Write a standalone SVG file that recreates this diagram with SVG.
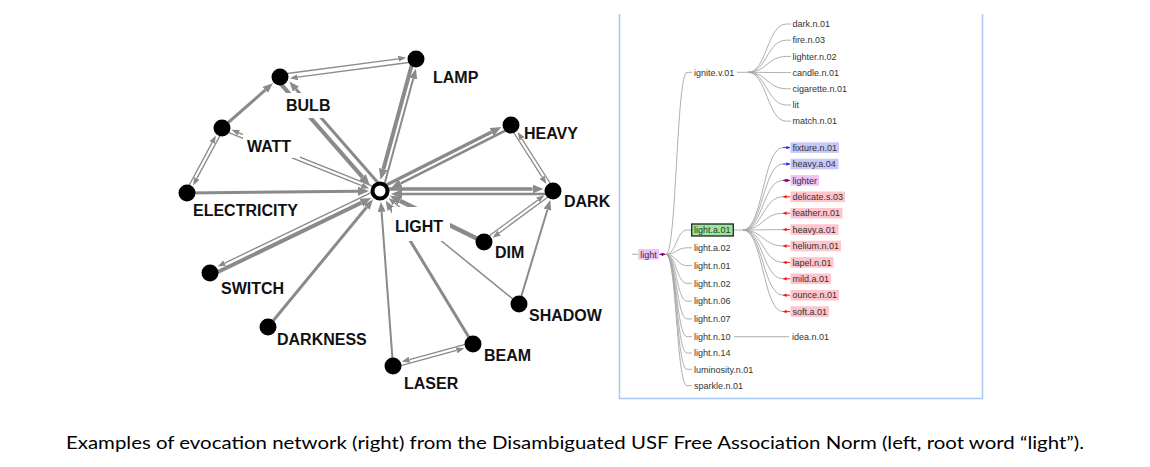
<svg xmlns="http://www.w3.org/2000/svg" width="1150" height="467" viewBox="0 0 1150 467">
<style>
.e{fill:none;stroke:#8a8a8a;stroke-linecap:butt}
.t1{stroke-width:1.3}
.nd{fill:#000}
.lb{font-family:"Liberation Sans",Arial,sans-serif;font-weight:bold;font-size:16px;fill:#111}
.bg{fill:#fff}
.tl{fill:none;stroke:#a6a6a6;stroke-width:0.9}
.tt{font-family:"Liberation Sans",Arial,sans-serif;font-size:9px;fill:#333}
.bb{fill:#c8c8f8}
.bp{fill:#ffc4cc}
.bv{fill:#f0c2f6}
.ab{stroke:#2626ff;stroke-width:1;fill:none}
.ar{stroke:#ff1010;stroke-width:1;fill:none}
.ap{stroke:#800080;stroke-width:1;fill:none}
.cap{font-family:Lato,"Open Sans",sans-serif;font-size:17px;fill:#000}
</style>
<defs>
<marker id="a8" markerUnits="userSpaceOnUse" markerWidth="8" markerHeight="6" viewBox="0 0 8 6" refX="0" refY="3" orient="auto"><path d="M0,0 L8,3 L0,6 z" fill="#8a8a8a"/></marker>
<marker id="a10" markerUnits="userSpaceOnUse" markerWidth="10" markerHeight="8" viewBox="0 0 10 8" refX="0" refY="4" orient="auto"><path d="M0,0 L10,4 L0,8 z" fill="#8a8a8a"/></marker>
<marker id="a11" markerUnits="userSpaceOnUse" markerWidth="11" markerHeight="9" viewBox="0 0 11 9" refX="0" refY="4.5" orient="auto"><path d="M0,0 L11,4.5 L0,9 z" fill="#8a8a8a"/></marker>
<marker id="mb" markerUnits="userSpaceOnUse" markerWidth="3.6" markerHeight="3.6" viewBox="0 0 3.6 3.6" refX="3.6" refY="1.8" orient="auto-start-reverse"><path d="M0,0 L3.6,1.8 L0,3.6 z" fill="#2626ff"/></marker>
<marker id="mr" markerUnits="userSpaceOnUse" markerWidth="3.6" markerHeight="3.6" viewBox="0 0 3.6 3.6" refX="3.6" refY="1.8" orient="auto-start-reverse"><path d="M0,0 L3.6,1.8 L0,3.6 z" fill="#ff1010"/></marker>
<marker id="mp" markerUnits="userSpaceOnUse" markerWidth="3.6" markerHeight="3.6" viewBox="0 0 3.6 3.6" refX="3.6" refY="1.8" orient="auto-start-reverse"><path d="M0,0 L3.6,1.8 L0,3.6 z" fill="#800080"/></marker>
</defs>
<rect width="1150" height="467" fill="#fff"/>

<!-- left: USF free association network -->
<g id="edges">
<path class="e t1" d="M279.7,74.5 L398.3,58.8" marker-end="url(#a8)"/>
<path class="e t1" d="M416.3,61.5 L297.7,77.2" marker-end="url(#a8)"/>
<path class="e" stroke-width="4" d="M277,79.6 L362.5,177.1" marker-end="url(#a11)"/>
<path class="e" stroke-width="3" d="M383,188.4 L295.9,89.1" marker-end="url(#a10)"/>
<path class="e" stroke-width="3" d="M222,128 L265.4,89.9" marker-end="url(#a10)"/>
<path class="e t1" d="M185.4,192.2 L212.1,142.6" marker-end="url(#a8)"/>
<path class="e t1" d="M223.6,128.9 L196.9,178.4" marker-end="url(#a8)"/>
<path class="e" stroke-width="3" d="M187,193 L358,191.2" marker-end="url(#a11)"/>
<path class="e t1" d="M221.3,129.7 L361.7,185.6" marker-end="url(#a8)"/>
<path class="e t1" d="M380.7,189.3 L238.9,132.8" marker-end="url(#a8)"/>
<path class="e" stroke-width="4" d="M413.6,58.3 L383.4,169.1" marker-end="url(#a11)"/>
<path class="e" stroke-width="2" d="M382.4,191.7 L413.3,78.5" marker-end="url(#a10)"/>
<path class="e" stroke-width="3.5" d="M378.9,188.8 L491.6,132" marker-end="url(#a11)"/>
<path class="e" stroke-width="2.5" d="M512.1,127.2 L400.8,183.3" marker-end="url(#a11)"/>
<path class="e t1" d="M509.5,126 L542.1,177.2" marker-end="url(#a8)"/>
<path class="e t1" d="M554.5,190 L521.9,138.8" marker-end="url(#a8)"/>
<path class="e" stroke-width="3.5" d="M380,189 L532.5,189" marker-end="url(#a11)"/>
<path class="e" stroke-width="2.5" d="M553,194 L402,194" marker-end="url(#a11)"/>
<path class="e t1" d="M482.9,240.6 L537.9,199.9" marker-end="url(#a8)"/>
<path class="e t1" d="M554.1,192.4 L499.1,233" marker-end="url(#a8)"/>
<path class="e" stroke-width="2" d="M519,304 L547.4,209.7" marker-end="url(#a10)"/>
<path class="e" stroke-width="4.5" d="M484,242 L399.8,200.7" marker-end="url(#a11)"/>
<path class="e" stroke-width="1.5" d="M519,304 L394.7,203" marker-end="url(#a8)"/>
<path class="e" stroke-width="3" d="M473,344 L390.9,209" marker-end="url(#a10)"/>
<path class="e" stroke-width="2" d="M393,366 L381.6,211.9" marker-end="url(#a10)"/>
<path class="e t1" d="M393.5,367.7 L456.6,350.4" marker-end="url(#a8)"/>
<path class="e t1" d="M472.5,342.3 L409.4,359.6" marker-end="url(#a8)"/>
<path class="e" stroke-width="4" d="M211.1,275.3 L361.3,202.8" marker-end="url(#a11)"/>
<path class="e t1" d="M378.9,188.8 L224.7,263.1" marker-end="url(#a8)"/>
<path class="e" stroke-width="3" d="M268,327 L366.6,207.2" marker-end="url(#a10)"/>
</g>

<g id="n-light"><rect class="bg" x="392" y="207" width="58" height="34"/><circle cx="380" cy="191" r="7.5" fill="#fff" stroke="#000" stroke-width="4"/><text class="lb" x="395" y="232">LIGHT</text></g>
<g id="n-bulb"><rect class="bg" x="283" y="93" width="50" height="25"/><circle class="nd" cx="280" cy="77" r="8.5"/><text class="lb" x="286" y="111">BULB</text></g>
<g id="n-watt"><rect class="bg" x="243" y="134" width="57" height="24"/><circle class="nd" cx="222" cy="128" r="8.5"/><text class="lb" x="247" y="152">WATT</text></g>
<g id="n-electricity"><circle class="nd" cx="187" cy="193" r="8.5"/><text class="lb" x="193" y="216">ELECTRICITY</text></g>
<g id="n-lamp"><circle class="nd" cx="416" cy="59" r="8.5"/><text class="lb" x="433" y="83">LAMP</text></g>
<g id="n-heavy"><circle class="nd" cx="511" cy="125" r="8.5"/><text class="lb" x="524" y="139">HEAVY</text></g>
<g id="n-dark"><circle class="nd" cx="553" cy="191" r="8.5"/><text class="lb" x="564" y="207">DARK</text></g>
<g id="n-dim"><circle class="nd" cx="484" cy="242" r="8.5"/><text class="lb" x="495" y="258">DIM</text></g>
<g id="n-shadow"><circle class="nd" cx="519" cy="304" r="8.5"/><text class="lb" x="529" y="321">SHADOW</text></g>
<g id="n-beam"><circle class="nd" cx="473" cy="344" r="8.5"/><text class="lb" x="484" y="361">BEAM</text></g>
<g id="n-laser"><circle class="nd" cx="393" cy="366" r="8.5"/><text class="lb" x="404" y="389">LASER</text></g>
<g id="n-switch"><circle class="nd" cx="210" cy="273" r="8.5"/><text class="lb" x="221" y="294">SWITCH</text></g>
<g id="n-darkness"><circle class="nd" cx="268" cy="327" r="8.5"/><text class="lb" x="277" y="345">DARKNESS</text></g>

<!-- right: evocation tree panel -->
<path id="panel" d="M619.5,14 V398.5 H982.5 V14" fill="none" stroke="#a9c9f2" stroke-width="1.5"/>

<g id="tree-links">
<path class="tl" d="M632,254.3 H638.3"/>
<path class="tl" d="M666,254.3 C676.5,254.3 676.5,72.3 687,72.3 H692"/>
<path class="tl" d="M666,254.3 C676.5,254.3 676.5,230 687,230 H691.7"/>
<path class="tl" d="M666,254.3 C676.5,254.3 676.5,247.8 687,247.8 H692"/>
<path class="tl" d="M666,254.3 C676.5,254.3 676.5,265.6 687,265.6 H692"/>
<path class="tl" d="M666,254.3 C676.5,254.3 676.5,283.3 687,283.3 H692"/>
<path class="tl" d="M666,254.3 C676.5,254.3 676.5,301.1 687,301.1 H692"/>
<path class="tl" d="M666,254.3 C676.5,254.3 676.5,318.9 687,318.9 H692"/>
<path class="tl" d="M666,254.3 C676.5,254.3 676.5,336.7 687,336.7 H692"/>
<path class="tl" d="M666,254.3 C676.5,254.3 676.5,353 687,353 H692"/>
<path class="tl" d="M666,254.3 C676.5,254.3 676.5,369.3 687,369.3 H692"/>
<path class="tl" d="M666,254.3 C676.5,254.3 676.5,385.6 687,385.6 H692"/>
<path class="tl" d="M737,72.3 H748"/>
<path class="tl" d="M748,72.3 C767,72.3 767,24 786.5,24 H791"/>
<path class="tl" d="M748,72.3 C767,72.3 767,40.2 786.5,40.2 H791"/>
<path class="tl" d="M748,72.3 C767,72.3 767,56.4 786.5,56.4 H791"/>
<path class="tl" d="M748,72.3 C767,72.3 767,72.6 786.5,72.6 H791"/>
<path class="tl" d="M748,72.3 C767,72.3 767,88.8 786.5,88.8 H791"/>
<path class="tl" d="M748,72.3 C767,72.3 767,105 786.5,105 H791"/>
<path class="tl" d="M748,72.3 C767,72.3 767,121.2 786.5,121.2 H791"/>
<path class="tl" d="M733.3,230 H743"/>
<path class="tl" d="M743,230 C763,230 763,147.6 783,147.6"/>
<path class="tl" d="M743,230 C763,230 763,164 783,164"/>
<path class="tl" d="M743,230 C763,230 763,180.4 783,180.4"/>
<path class="tl" d="M743,230 C763,230 763,196.8 783,196.8"/>
<path class="tl" d="M743,230 C763,230 763,213.2 783,213.2"/>
<path class="tl" d="M743,230 C763,230 763,229.6 783,229.6"/>
<path class="tl" d="M743,230 C763,230 763,246 783,246"/>
<path class="tl" d="M743,230 C763,230 763,262.4 783,262.4"/>
<path class="tl" d="M743,230 C763,230 763,278.8 783,278.8"/>
<path class="tl" d="M743,230 C763,230 763,295.2 783,295.2"/>
<path class="tl" d="M743,230 C763,230 763,311.6 783,311.6"/>
<path class="tl" d="M734,336.7 H789"/>
<path class="ap" d="M659.5,254.3 H665.5" marker-start="url(#mp)" marker-end="url(#mp)"/>
<path class="ab" d="M783,147.6 H790" marker-end="url(#mb)"/>
<path class="ab" d="M783,164 H790" marker-end="url(#mb)"/>
<path class="ap" d="M783,180.4 H790" marker-start="url(#mp)" marker-end="url(#mp)"/>
<path class="ar" d="M783,196.8 H790" marker-start="url(#mr)"/>
<path class="ar" d="M783,213.2 H790" marker-start="url(#mr)"/>
<path class="ar" d="M783,229.6 H790" marker-start="url(#mr)"/>
<path class="ar" d="M783,246 H790" marker-start="url(#mr)"/>
<path class="ar" d="M783,262.4 H790" marker-start="url(#mr)"/>
<path class="ar" d="M783,278.8 H790" marker-start="url(#mr)"/>
<path class="ar" d="M783,295.2 H790" marker-start="url(#mr)"/>
<path class="ar" d="M783,311.6 H790" marker-start="url(#mr)"/>
</g>

<g id="t-light"><rect class="bv" x="638.3" y="249" width="20.7" height="10.6"/><text class="tt" x="640.3" y="257.5">light</text></g>
<g id="t-ignite"><text class="tt" x="694" y="75.5">ignite.v.01</text></g>
<g id="t-dark"><text class="tt" x="792.5" y="27.2">dark.n.01</text></g>
<g id="t-fire"><text class="tt" x="792.5" y="43.4">fire.n.03</text></g>
<g id="t-lighter02"><text class="tt" x="792.5" y="59.6">lighter.n.02</text></g>
<g id="t-candle"><text class="tt" x="792.5" y="75.8">candle.n.01</text></g>
<g id="t-cigarette"><text class="tt" x="792.5" y="92">cigarette.n.01</text></g>
<g id="t-lit"><text class="tt" x="792.5" y="108.2">lit</text></g>
<g id="t-match"><text class="tt" x="792.5" y="124.4">match.n.01</text></g>
<g id="t-lighta01"><rect x="691.7" y="224" width="41.6" height="12" fill="#98e698" stroke="#222" stroke-width="1.3"/><text class="tt" x="694" y="233.3">light.a.01</text></g>
<g id="t-fixture"><rect class="bb" x="790.5" y="142.3" width="48.5" height="10.6"/><text class="tt" x="792.5" y="150.8">fixture.n.01</text></g>
<g id="t-heavya04"><rect class="bb" x="790.5" y="158.7" width="48" height="10.6"/><text class="tt" x="792.5" y="167.2">heavy.a.04</text></g>
<g id="t-lighter"><rect class="bv" x="790.5" y="175.1" width="28.5" height="10.6"/><text class="tt" x="792.5" y="183.6">lighter</text></g>
<g id="t-delicate"><rect class="bp" x="790.5" y="191.5" width="54.5" height="10.6"/><text class="tt" x="792.5" y="200">delicate.s.03</text></g>
<g id="t-feather"><rect class="bp" x="790.5" y="207.9" width="52" height="10.6"/><text class="tt" x="792.5" y="216.4">feather.n.01</text></g>
<g id="t-heavya01"><rect class="bp" x="790.5" y="224.3" width="48" height="10.6"/><text class="tt" x="792.5" y="232.8">heavy.a.01</text></g>
<g id="t-helium"><rect class="bp" x="790.5" y="240.7" width="50.5" height="10.6"/><text class="tt" x="792.5" y="249.2">helium.n.01</text></g>
<g id="t-lapel"><rect class="bp" x="790.5" y="257.1" width="43" height="10.6"/><text class="tt" x="792.5" y="265.6">lapel.n.01</text></g>
<g id="t-mild"><rect class="bp" x="790.5" y="273.5" width="40.5" height="10.6"/><text class="tt" x="792.5" y="282">mild.a.01</text></g>
<g id="t-ounce"><rect class="bp" x="790.5" y="289.9" width="48.5" height="10.6"/><text class="tt" x="792.5" y="298.4">ounce.n.01</text></g>
<g id="t-soft"><rect class="bp" x="790.5" y="306.3" width="38.5" height="10.6"/><text class="tt" x="792.5" y="314.8">soft.a.01</text></g>
<g id="t-lighta02"><text class="tt" x="694" y="251">light.a.02</text></g>
<g id="t-lightn01"><text class="tt" x="694" y="268.8">light.n.01</text></g>
<g id="t-lightn02"><text class="tt" x="694" y="286.5">light.n.02</text></g>
<g id="t-lightn06"><text class="tt" x="694" y="304.3">light.n.06</text></g>
<g id="t-lightn07"><text class="tt" x="694" y="322.1">light.n.07</text></g>
<g id="t-lightn10"><text class="tt" x="694" y="339.9">light.n.10</text></g>
<g id="t-idea"><text class="tt" x="792" y="339.9">idea.n.01</text></g>
<g id="t-lightn14"><text class="tt" x="694" y="356.2">light.n.14</text></g>
<g id="t-luminosity"><text class="tt" x="694" y="372.5">luminosity.n.01</text></g>
<g id="t-sparkle"><text class="tt" x="694" y="388.8">sparkle.n.01</text></g>

<text class="cap" x="66" y="449" textLength="1018" lengthAdjust="spacingAndGlyphs">Examples of evocation network (right) from the Disambiguated USF Free Association Norm (left, root word “light”).</text>
</svg>
